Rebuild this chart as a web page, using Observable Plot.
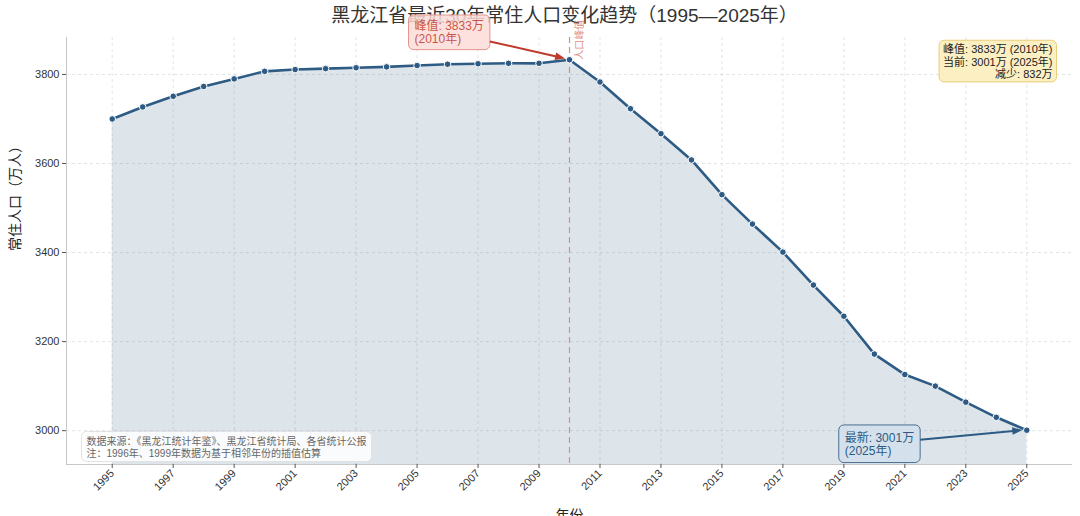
<!DOCTYPE html>
<html><head><meta charset="utf-8">
<script src="https://cdn.jsdelivr.net/npm/d3@7"></script>
<script src="https://cdn.jsdelivr.net/npm/@observablehq/plot@0.6"></script>
<style>body{margin:0;background:#fff;}</style>
</head><body><div id="chart"></div>
<script>
// ---- data ----
const years = [1995,1996,1997,1998,1999,2000,2001,2002,2003,2004,2005,2006,2007,2008,2009,2010,
               2011,2012,2013,2014,2015,2016,2017,2018,2019,2020,2021,2022,2023,2024,2025];
const population = [3700,3727,3751,3773,3790,3807,3811,3813,3815,3817,3820,3823,3824,3825,3825,3833,
                    3783,3723,3667,3608,3530,3464,3401,3327,3257,3172,3126,3100,3064,3030,3001];
const xTicks = [1995,1997,1999,2001,2003,2005,2007,2009,2011,2013,2015,2017,2019,2021,2023,2025];
const yTicks = [3000,3200,3400,3600,3800];
const titleText = "黑龙江省最近30年常住人口变化趋势（1995—2025年）";
const xLabel = "年份";
const yLabel = "常住人口（万人）";
const peakLineLabel = "人口峰值";
const sourceLines = ["数据来源：《黑龙江统计年鉴》、黑龙江省统计局、各省统计公报",
                     "注：1996年、1999年数据为基于相邻年份的插值估算"];

// ---- derived ----
const rows = years.map((year, i) => ({year, value: population[i]}));
const peak = rows.reduce((a, b) => (b.value > a.value ? b : a));
const last = rows[rows.length - 1];
const peakLabel = `峰值: ${peak.value}万\n(${peak.year}年)`;
const lastLabel = `最新: ${last.value}万\n(${last.year}年)`;
const statsLabel = `峰值: ${peak.value}万 (${peak.year}年)\n当前: ${last.value}万 (${last.year}年)\n减少: ${peak.value - last.value}万`;

const xDomain = [1993.5, 2026.5];
const yDomain = [2924, 3883];
const lineColor = "#2d5b84";
const peakColor = "#c0392b";

const chart = Plot.plot({
  width: 1080, height: 516,
  marginLeft: 66, marginRight: 8, marginTop: 37, marginBottom: 52,
  style: {fontFamily: "'Liberation Sans','Noto Sans CJK SC',sans-serif", fontSize: "11px", color: "#333", background: "#fff"},
  x: {domain: xDomain},
  y: {domain: yDomain},
  marks: [
    Plot.gridX(xTicks, {stroke: "#dadde1", strokeOpacity: 1, strokeDasharray: "3,3", strokeWidth: 0.8}),
    Plot.gridY(yTicks, {stroke: "#dadde1", strokeOpacity: 1, strokeDasharray: "3,3", strokeWidth: 0.8}),
    Plot.areaY(rows, {x: "year", y1: yDomain[0], y2: "value", fill: lineColor, fillOpacity: 0.16}),
    Plot.ruleX([xDomain[0]], {stroke: "#c8c8c8", strokeWidth: 1}),
    Plot.ruleY([yDomain[0]], {stroke: "#c8c8c8", strokeWidth: 1}),
    Plot.lineY(rows, {x: "year", y: "value", stroke: lineColor, strokeWidth: 2.6}),
    Plot.ruleX([peak.year], {stroke: "#e38a7c", strokeOpacity: 1, strokeDasharray: "6,4", strokeWidth: 1.2}),
    Plot.dot(rows, {x: "year", y: "value", r: 3.3, fill: lineColor, stroke: "#fff", strokeWidth: 1}),
    Plot.axisX({ticks: xTicks, tickFormat: d => String(d), tickRotate: -45, tickSize: 4, tickPadding: 3, label: null, stroke: "#555", fill: "#333", fontSize: 11}),
    Plot.axisY({ticks: yTicks, tickFormat: d => String(d), tickSize: 4, tickPadding: 3, label: null, stroke: "#555", fill: "#333", fontSize: 11}),
    Plot.text([titleText], {frameAnchor: "top", dx: -5, dy: -22, lineAnchor: "middle", fontSize: 19, fill: "#333"}),
    Plot.text([yLabel], {frameAnchor: "left", dx: -51, rotate: -90, lineAnchor: "middle", fontSize: 14, fill: "#222"}),
    Plot.text([xLabel], {frameAnchor: "bottom", dy: 46, lineAnchor: "top", fontSize: 14, fill: "#222"}),
    Plot.text([peak], {x: "year", y: "value", text: () => peakLineLabel, rotate: -90, textAnchor: "start", lineAnchor: "middle", dx: 10, dy: 0, fontSize: 10, fill: "#e08070", fillOpacity: 0.9}),
    Plot.text([peak], {x: "year", y: "value", text: () => peakLabel, dx: -155, dy: -27, textAnchor: "start", lineAnchor: "middle", lineHeight: 1.05, fontSize: 12, fill: peakColor, fillOpacity: 0.85}),
    Plot.text([last], {x: "year", y: "value", text: () => lastLabel, dx: -182, dy: 14, textAnchor: "start", lineAnchor: "middle", lineHeight: 1.05, fontSize: 12, fill: lineColor}),
    Plot.text([statsLabel], {frameAnchor: "top-right", dx: -20, dy: 7, textAnchor: "end", lineAnchor: "top", lineHeight: 1.12, fontSize: 11, fill: "#222"}),
    Plot.text([sourceLines.join("\n")], {frameAnchor: "bottom-left", dx: 20, dy: -8, textAnchor: "start", lineAnchor: "bottom", lineHeight: 1.2, fontSize: 10, fill: "#666"})
  ]
});
document.getElementById("chart").appendChild(chart);

// ---- annotation boxes and arrows ----
const svg = d3.select(chart);
const xs = chart.scale("x"), ys = chart.scale("y");
function findText(start) {
  return svg.selectAll("text").filter(function () { return this.textContent.startsWith(start); }).node();
}
function boxFor(start, padX, padY, fill, fillOpacity, stroke) {
  const t = findText(start);
  if (!t) return null;
  const b = t.getBBox();
  const r = document.createElementNS("http://www.w3.org/2000/svg", "rect");
  r.setAttribute("x", b.x - padX); r.setAttribute("y", b.y - padY);
  r.setAttribute("width", b.width + 2 * padX); r.setAttribute("height", b.height + 2 * padY);
  r.setAttribute("rx", 5); r.setAttribute("fill", fill); r.setAttribute("fill-opacity", fillOpacity);
  r.setAttribute("stroke", stroke); r.setAttribute("stroke-width", 1);
  if (t.getAttribute("transform")) r.setAttribute("transform", t.getAttribute("transform"));
  t.parentNode.insertBefore(r, t);
  const m = r.getCTM();
  const p = chart.createSVGPoint();
  p.x = b.x + b.width / 2; p.y = b.y + b.height / 2;
  const c = p.matrixTransform(m);
  return {cx: c.x, cy: c.y, hw: b.width / 2 + padX, hh: b.height / 2 + padY};
}
function arrow(box, datum, color) {
  if (!box) return;
  const tx = xs.apply(datum.year), ty = ys.apply(datum.value);
  let dx = tx - box.cx, dy = ty - box.cy;
  const len = Math.hypot(dx, dy); const ux = dx / len, uy = dy / len;
  const t = Math.min(Math.abs(box.hw / (dx || 1e-9)), Math.abs(box.hh / (dy || 1e-9)));
  const sx = box.cx + dx * t, sy = box.cy + dy * t;
  const ex = tx - ux * 4, ey = ty - uy * 4;
  const hl = 10, hw = 3.8;
  const bx = ex - ux * hl, by = ey - uy * hl;
  svg.append("line").attr("x1", sx).attr("y1", sy).attr("x2", bx + ux * 1).attr("y2", by + uy * 1)
    .attr("stroke", color).attr("stroke-width", 2);
  svg.append("polygon").attr("points", `${ex},${ey} ${bx - uy * hw},${by + ux * hw} ${bx + uy * hw},${by - ux * hw}`)
    .attr("fill", color);
}
const peakBox = boxFor("峰值: " + peak.value + "万(", 6, 3.5, "#fcdcd8", 0.85, "#e3968a");
const lastBox = boxFor("最新", 6, 5, "#d3e0ec", 0.9, "#4a6d90");
boxFor("峰值: " + peak.value + "万 (", 4, 2, "#fcefc2", 1, "#e8cd7a");
boxFor("数据来源", 5, 3, "#ffffff", 0.85, "#e2e2e2");
arrow(peakBox, peak, peakColor);
arrow(lastBox, last, lineColor);
</script>
</body></html>
